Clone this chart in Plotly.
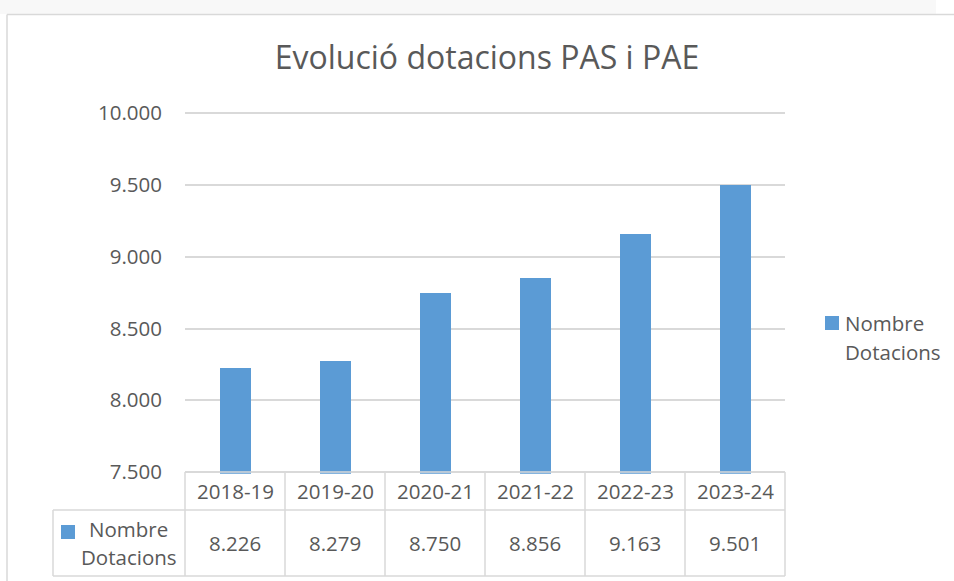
import plotly.graph_objects as go

# ---- data ----
categories = ["2018-19", "2019-20", "2020-21", "2021-22", "2022-23", "2023-24"]
values = [8226, 8279, 8750, 8856, 9163, 9501]
series_name = "Nombre Dotacions"
title_text = "Evolució dotacions PAS i PAE"
y_min, y_max = 7500, 10000
y_ticks = [7500, 8000, 8500, 9000, 9500, 10000]

W, H = 954, 581
TEXT = "#595959"
GRID = "#d9d9d9"
BAR = "#5b9bd5"
FONT = "Open Sans"


def px(x):
    return x / W


def py(y):
    return 1 - y / H


PLOT_L, PLOT_R = 185, 785
PLOT_T, PLOT_B = 113.3, 472
ROW1_B, ROW2_B = 510, 576
LEG_L = 53
COL_W = (PLOT_R - PLOT_L) / len(categories)

# small padding on the value axis so the end gridlines are drawn
PAD = 12
unit_px = (PLOT_B - PLOT_T) / (y_max - y_min)
dom_bottom = PLOT_B + PAD * unit_px
dom_top = PLOT_T - PAD * unit_px


def fmt(v):
    return f"{v:,}".replace(",", ".")


fig = go.Figure()
fig.add_trace(go.Bar(
    x=categories, y=values, name=series_name,
    marker=dict(color=BAR, line=dict(width=0)), width=0.31, showlegend=False,
))

shapes = []
annotations = []

# background strip above chart and chart border
shapes.append(dict(type="rect", xref="paper", yref="paper", x0=0, x1=px(936), y0=py(0), y1=py(14),
                   fillcolor="#f8f8f8", line=dict(width=0), layer="below"))
shapes.append(dict(type="line", xref="paper", yref="paper", x0=px(7), x1=1, y0=py(14.5), y1=py(14.5),
                   line=dict(color=GRID, width=1.5)))
shapes.append(dict(type="line", xref="paper", yref="paper", x0=px(7), x1=px(7), y0=py(14.5), y1=0,
                   line=dict(color=GRID, width=1.5)))


def hline(y, x0, x1):
    shapes.append(dict(type="line", xref="paper", yref="paper", x0=px(x0), x1=px(x1), y0=py(y), y1=py(y),
                       line=dict(color=GRID, width=1.5)))


def vline(x, y0, y1):
    shapes.append(dict(type="line", xref="paper", yref="paper", x0=px(x), x1=px(x), y0=py(y0), y1=py(y1),
                       line=dict(color=GRID, width=1.5)))


# data table lines
hline(PLOT_B, PLOT_L, PLOT_R)
hline(ROW1_B, LEG_L, PLOT_R)
hline(ROW2_B, LEG_L, PLOT_R)
vline(LEG_L, ROW1_B, ROW2_B)
for i in range(len(categories) + 1):
    vline(PLOT_L + i * COL_W, PLOT_B, ROW2_B)

tfont = dict(family=FONT, size=20.5, color=TEXT)
for c, v in zip(categories, values):
    annotations.append(dict(x=c, xref="x", y=py(491), yref="paper", text=c, showarrow=False,
                            font=tfont, xanchor="center", yanchor="middle"))
    annotations.append(dict(x=c, xref="x", y=py(543), yref="paper", text=fmt(v), showarrow=False,
                            font=tfont, xanchor="center", yanchor="middle"))

name_l1, name_l2 = series_name.split(" ")

# legend key inside the table
shapes.append(dict(type="rect", xref="paper", yref="paper", x0=px(61), x1=px(75), y0=py(525), y1=py(539),
                   fillcolor=BAR, line=dict(width=0)))
annotations.append(dict(x=px(128), xref="paper", y=py(529), yref="paper", text=name_l1,
                        showarrow=False, font=tfont, xanchor="center", yanchor="middle"))
annotations.append(dict(x=px(129), xref="paper", y=py(557), yref="paper", text=name_l2,
                        showarrow=False, font=tfont, xanchor="center", yanchor="middle"))

# right legend
shapes.append(dict(type="rect", xref="paper", yref="paper", x0=px(825), x1=px(839), y0=py(316), y1=py(330),
                   fillcolor=BAR, line=dict(width=0)))
annotations.append(dict(x=px(843), xref="paper", y=py(323), yref="paper", text=name_l1,
                        showarrow=False, font=tfont, xanchor="left", yanchor="middle"))
annotations.append(dict(x=px(843), xref="paper", y=py(352), yref="paper", text=name_l2,
                        showarrow=False, font=tfont, xanchor="left", yanchor="middle"))

fig.update_layout(
    width=W, height=H,
    margin=dict(l=0, r=0, t=0, b=0, pad=0),
    paper_bgcolor="white", plot_bgcolor="white",
    separators=",.",
    title=dict(text=title_text, x=px(487), xanchor="center", xref="paper",
               y=py(58), yanchor="middle", yref="paper", automargin=False,
               font=dict(family=FONT, size=32, color=TEXT)),
    font=dict(family=FONT, color=TEXT),
    xaxis=dict(domain=[px(PLOT_L), px(PLOT_R)], range=[-0.5, len(categories) - 0.5],
               showticklabels=False, showgrid=False, zeroline=False, showline=False, ticks="",
               automargin=False, fixedrange=True),
    yaxis=dict(domain=[py(dom_bottom), py(dom_top)], range=[y_min - PAD, y_max + PAD],
               tickvals=y_ticks, tickformat=",d",
               showgrid=True, gridcolor=GRID, gridwidth=1.5, zeroline=False, showline=False,
               ticks="", ticklabelstandoff=22, automargin=False, fixedrange=True,
               tickfont=tfont),
    showlegend=False,
    shapes=shapes,
    annotations=annotations,
    bargap=0,
)

fig.write_html(
    "out.html",
    config={"displayModeBar": False},
    post_script="document.body.style.margin='0';document.body.style.padding='0';"
                "document.body.style.overflow='hidden';",
)
